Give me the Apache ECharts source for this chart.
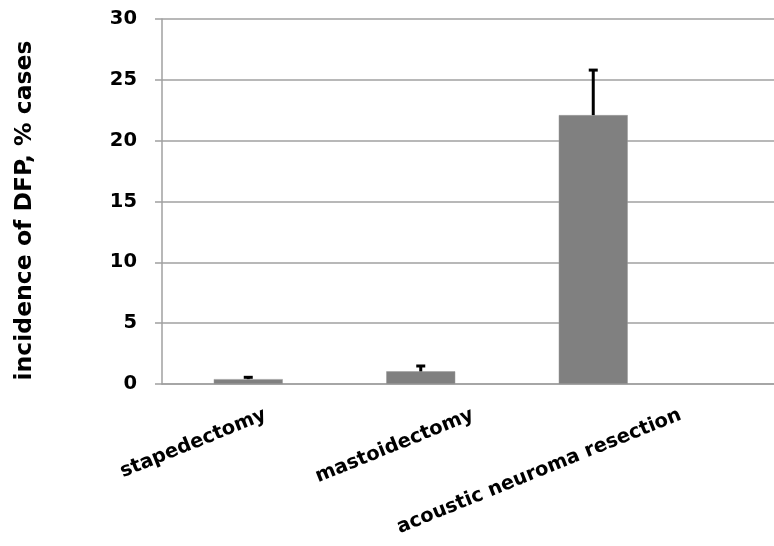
<!DOCTYPE html>
<html>
<head>
    <meta charset="UTF-8">
    <title></title>
    <script src="https://cdn.jsdelivr.net/npm/echarts@6/dist/echarts.min.js"></script>
</head>
<body style="margin:0;">
<div id="container" style="height:546px;width:774px;"></div>
<script>
    // chart data
    var categories = ['stapedectomy', 'mastoidectomy', 'acoustic neuroma resection'];
    var incidence = [0.4, 1.04, 22.1];
    var errUp = [0.15, 0.44, 3.7];
    var yTicks = [0, 5, 10, 15, 20, 25, 30];

    var dom = document.getElementById("container");
    var myChart = echarts.init(dom);
    var font = 'DejaVu Sans, sans-serif';
    var axisGray = '#a0a0a0';

    var errData = [];
    for (var i = 0; i < incidence.length; i++) {
        errData.push([i, incidence[i], incidence[i] + errUp[i]]);
    }
    // one empty slot on the right, the plot runs past the picture edge
    var plotCats = categories.concat(['']);

    var option = {
        animation: false,
        grid: [
            {left: 162, top: 19, height: 365, width: 690, outerBoundsMode: 'none', containLabel: false},
            // labels only: excel spreads the slanted labels wider than the bars
            {left: 158, top: 19, height: 365, width: 622.5, outerBoundsMode: 'none', containLabel: false}
        ],
        xAxis: [
            {
                type: 'category',
                data: plotCats,
                axisLine: {lineStyle: {color: axisGray, width: 1.5}},
                axisTick: {
                    length: 7,
                    lineStyle: {color: axisGray, width: 1.5},
                    interval: function (idx) { return idx < 3; }
                },
                axisLabel: {show: false}
            },
            {
                type: 'category',
                gridIndex: 1,
                data: categories,
                axisLine: {show: false},
                axisTick: {show: false},
                axisLabel: {
                    rotate: 22,
                    align: 'right',
                    verticalAlign: 'top',
                    margin: 21,
                    interval: 0,
                    color: '#000',
                    fontFamily: font,
                    fontWeight: 'bold',
                    fontSize: 19.5
                }
            }
        ],
        yAxis: [
            {
                type: 'value',
                min: yTicks[0],
                max: yTicks[yTicks.length - 1],
                interval: 5,
                name: 'incidence of DFP, % cases',
                nameLocation: 'middle',
                nameGap: 125,
                nameTextStyle: {color: '#000', fontFamily: font, fontWeight: 'bold', fontSize: 23.5, padding: [0, 18, 0, 0]},
                axisLine: {show: true, lineStyle: {color: axisGray, width: 1.5}},
                axisTick: {show: true, length: 7, lineStyle: {color: axisGray, width: 1.5}},
                splitLine: {lineStyle: {color: axisGray, width: 1.5}},
                axisLabel: {
                    margin: 25,
                    color: '#000',
                    fontFamily: font,
                    fontWeight: 'bold',
                    fontSize: 19.5
                }
            },
            {type: 'value', gridIndex: 1, show: false, min: 0, max: 30}
        ],
        series: [
            {
                type: 'bar',
                data: incidence,
                barWidth: '40%',
                itemStyle: {color: '#808080', borderColor: '#999', borderWidth: 0.5}
            },
            {
                type: 'custom',
                data: errData,
                z: 5,
                renderItem: function (params, api) {
                    var top = api.coord([api.value(0), api.value(2)]);
                    var base = api.coord([api.value(0), api.value(1)]);
                    var hw = 4.5;
                    return {
                        type: 'group',
                        children: [
                            {type: 'line', shape: {x1: top[0], y1: top[1], x2: base[0], y2: base[1]},
                                style: {stroke: '#000', lineWidth: 3}},
                            {type: 'line', shape: {x1: top[0] - hw, y1: top[1], x2: top[0] + hw, y2: top[1]},
                                style: {stroke: '#000', lineWidth: 3}}
                        ]
                    };
                }
            }
        ]
    };
    myChart.setOption(option);
</script>
</body>
</html>
